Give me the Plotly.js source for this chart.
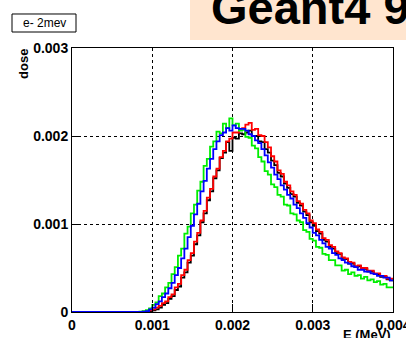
<!DOCTYPE html>
<html>
<head>
<meta charset="utf-8">
<script src="https://cdn.plot.ly/plotly-3.0.1.min.js"></script>
<style>
  html, body { margin: 0; padding: 0; background: #ffffff; }
  #chart { width: 406px; height: 338px; }
</style>
</head>
<body>
<div id="chart"></div>
<script>
// Energy-deposit histograms, 100 bins from 0 to 0.004 MeV
const binLow = 0;
const binWidth = 0.00004;

const blackDose = [
  0,0,0,0,0,0,0,0,0,0,
  0,0,0,0,0,0,0,0,0,0,
  0,0,0,0.000003,0.00001,0.00002,0.00003,0.00005,0.00008,0.00010,
  0.00015,0.00018,0.00025,0.00029,0.00039,0.00045,0.00056,0.00064,0.00077,0.00087,
  0.00102,0.00112,0.00127,0.00137,0.00152,0.00161,0.00175,0.00181,0.00193,0.00183,
  0.00198,0.00197,0.00203,0.00202,0.00204,0.00206,0.00200,0.00200,0.00194,0.00193,
  0.00185,0.00181,0.00172,0.00167,0.00158,0.00154,0.00146,0.00141,0.00134,0.00131,
  0.00124,0.00121,0.00114,0.00110,0.00102,0.00098,0.00092,0.00089,0.00082,0.00080,
  0.00074,0.00072,0.00067,0.00066,0.00060,0.00060,0.00055,0.00055,0.00051,0.00052,
  0.00049,0.00049,0.00046,0.00046,0.00043,0.00043,0.00040,0.00040,0.00037,0.00036
];

const redDose = [
  0,0,0,0,0,0,0,0,0,0,
  0,0,0,0,0,0,0,0,0,0,
  0,0,0.000003,0.00001,0.00002,0.00003,0.00005,0.00007,0.00010,0.00012,
  0.00017,0.00020,0.00028,0.00032,0.00042,0.00048,0.00059,0.00067,0.00080,0.00090,
  0.00104,0.00115,0.00130,0.00140,0.00154,0.00163,0.00176,0.00183,0.00194,0.00197,
  0.00204,0.00204,0.00208,0.00209,0.00213,0.00215,0.00207,0.00208,0.00201,0.00200,
  0.00193,0.00187,0.00177,0.00171,0.00161,0.00157,0.00148,0.00144,0.00137,0.00133,
  0.00126,0.00123,0.00116,0.00112,0.00104,0.00101,0.00094,0.00091,0.00084,0.00082,
  0.00076,0.00074,0.00069,0.00067,0.00062,0.00061,0.00057,0.00056,0.00052,0.00053,
  0.00050,0.00050,0.00047,0.00047,0.00044,0.00044,0.00041,0.00041,0.00038,0.00038
];

const greenDose = [
  0,0,0,0,0,0,0,0,0,0,
  0,0,0,0,0,0,0,0,0,0,
  0,0.000003,0.00001,0.00002,0.00004,0.00008,0.00011,0.00018,0.00021,0.00028,
  0.00033,0.00043,0.00051,0.00064,0.00072,0.00089,0.00097,0.00112,0.00122,0.00138,
  0.00148,0.00166,0.00174,0.00188,0.00194,0.00205,0.00203,0.00214,0.00209,0.00220,
  0.00212,0.00214,0.00206,0.00207,0.00199,0.00198,0.00189,0.00186,0.00176,0.00171,
  0.00160,0.00156,0.00145,0.00142,0.00133,0.00131,0.00122,0.00121,0.00112,0.00111,
  0.00104,0.00102,0.00093,0.00091,0.00083,0.00081,0.00074,0.00073,0.00066,0.00065,
  0.00059,0.00059,0.00053,0.00053,0.00047,0.00048,0.00043,0.00045,0.00041,0.00042,
  0.00038,0.00040,0.00036,0.00037,0.00034,0.00035,0.00031,0.00032,0.00028,0.00028
];

const blueDose = [
  0,0,0,0,0,0,0,0,0,0,
  0,0,0,0,0,0,0,0,0,0,
  0,0,0.000005,0.00001,0.00003,0.00005,0.00009,0.00012,0.00017,0.00021,
  0.00027,0.00033,0.00042,0.00050,0.00061,0.00072,0.00085,0.00098,0.00111,0.00123,
  0.00137,0.00149,0.00163,0.00174,0.00185,0.00194,0.00201,0.00204,0.00209,0.00206,
  0.00212,0.00209,0.00208,0.00208,0.00206,0.00202,0.00200,0.00195,0.00192,0.00185,
  0.00178,0.00170,0.00164,0.00156,0.00151,0.00144,0.00139,0.00133,0.00129,0.00122,
  0.00118,0.00112,0.00107,0.00101,0.00096,0.00090,0.00087,0.00082,0.00078,0.00074,
  0.00072,0.00067,0.00065,0.00061,0.00059,0.00056,0.00055,0.00052,0.00051,0.00048,
  0.00048,0.00046,0.00046,0.00044,0.00043,0.00041,0.00041,0.00039,0.00039,0.00036
];

const xTickVals = [0, 0.001, 0.002, 0.003, 0.004];
const xTickText = ['0', '0.001', '0.002', '0.003', '0.004'];
const yTickVals = [0, 0.001, 0.002, 0.003];
const yTickText = ['0', '0.001', '0.002', '0.003'];

const histTitle = 'e- 2mev';
const bannerText = 'Geant4 9';
const xTitle = 'E (MeV)';
const yTitle = 'dose';

// step outline: one point per bin edge, last bin content repeated
function stepTrace(values, color) {
  const xs = [];
  const ys = [];
  for (let i = 0; i <= values.length; i++) {
    xs.push(binLow + i * binWidth);
    ys.push(values[Math.min(i, values.length - 1)]);
  }
  return {
    type: 'scatter', mode: 'lines', x: xs, y: ys,
    line: { shape: 'hv', color: color, width: 1.8 },
    hoverinfo: 'skip', showlegend: false
  };
}

const traces = [
  stepTrace(blackDose, '#000000'),
  stepTrace(redDose, '#ff0000'),
  stepTrace(greenDose, '#00ee00'),
  stepTrace(blueDose, '#0000ff')
];

const family = 'Liberation Sans, Arial, sans-serif';
const tickFont = { family: family, size: 14, color: '#000', weight: 700 };
const titleFont = { family: family, size: 13, color: '#000', weight: 700 };

const axisCommon = {
  showline: true, linecolor: '#000', linewidth: 1, mirror: true,
  ticks: 'inside', ticklen: 8, tickwidth: 1, tickcolor: '#000',
  showgrid: true, gridcolor: '#000', gridwidth: 1, griddash: 'dot',
  zeroline: false, tickmode: 'array', tickfont: tickFont,
  ticklabeloverflow: 'allow', fixedrange: true
};

const layout = {
  width: 406, height: 338,
  margin: { l: 72, r: 13, t: 48, b: 26, pad: 0 },
  paper_bgcolor: '#ffffff', plot_bgcolor: '#ffffff',
  xaxis: Object.assign({}, axisCommon, {
    range: [0, 0.004], tickvals: xTickVals, ticktext: xTickText
  }),
  yaxis: Object.assign({}, axisCommon, {
    range: [0, 0.003], tickvals: yTickVals, ticktext: yTickText
  }),
  shapes: [
    { type: 'rect', xref: 'paper', yref: 'paper', layer: 'above',
      x0: -0.1869, x1: 0.0125, y0: 1.0606, y1: 1.1288,
      fillcolor: '#ffffff', line: { color: '#000', width: 1 } },
    { type: 'rect', xref: 'paper', yref: 'paper', layer: 'above',
      x0: 0.3676, x1: 1.06, y0: 1.0303, y1: 1.20,
      fillcolor: '#ffe5cf', line: { width: 0 } }
  ],
  annotations: [
    { text: histTitle, xref: 'paper', yref: 'paper', x: -0.0872, y: 1.0947,
      xanchor: 'center', yanchor: 'middle', showarrow: false,
      font: { family: family, size: 12, color: '#000' } },
    { text: bannerText, xref: 'paper', yref: 'paper', x: 0.4268, y: 1.0455,
      xanchor: 'left', yanchor: 'bottom', showarrow: false,
      font: { family: family, size: 47, color: '#000', weight: 700 } },
    { text: xTitle, xref: 'paper', yref: 'paper', x: 1.0, y: -0.05,
      xanchor: 'right', yanchor: 'top', showarrow: false, font: titleFont },
    { text: yTitle, xref: 'paper', yref: 'paper', x: -0.1495, y: 1.004,
      xanchor: 'center', yanchor: 'top', textangle: -90, showarrow: false, font: titleFont }
  ]
};

Plotly.newPlot('chart', traces, layout, { displayModeBar: false, staticPlot: true });
</script>
</body>
</html>
